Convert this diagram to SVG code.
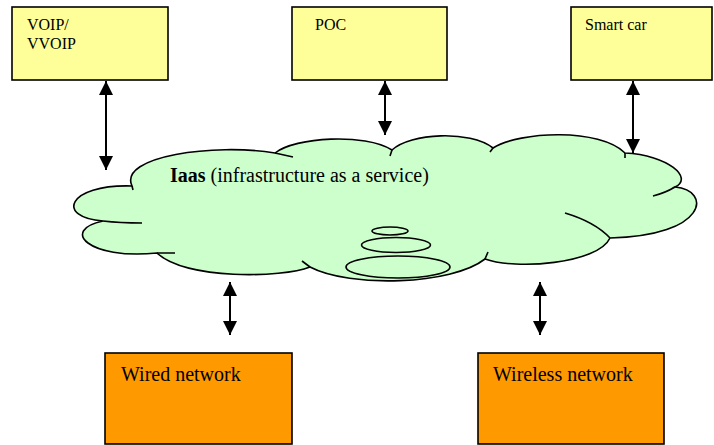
<svg xmlns="http://www.w3.org/2000/svg" width="714" height="445" viewBox="0 0 714 445">
<defs>
<style>
.box{stroke:#000;stroke-width:1.6}
.top{fill:#FFFF99}
.bot{fill:#FF9900}
text{font-family:'Liberation Serif','DejaVu Serif',serif;fill:#000}
.ts{font-size:16px}
.tb{font-size:20px}
.cloud{fill:#CCFFCC;stroke:#000;stroke-width:1.6}
.crease{fill:none;stroke:#000;stroke-width:1.6}
.conn line{stroke:#000;stroke-width:2;marker-start:url(#ah);marker-end:url(#ah)}
</style>
<marker id="ah" markerUnits="userSpaceOnUse" markerWidth="14" markerHeight="14" refX="14" refY="7" orient="auto-start-reverse">
<path d="M0,0 L14,7 L0,14 z" fill="#000"/>
</marker>
</defs>
<rect width="714" height="445" fill="#fff"/>
<g id="cloud">
<path class="cloud" d="M132,186 C118,156 215,143 275,153 C295,137 365,133 392,150 C410,133 470,130 493,148 C520,131 600,128 625,153 C668,155 694,178 675,187 C712,190 708,236 610,238 C598,264 515,270 485,259 C452,285 350,288 310,267 C282,278 185,280 157,253 C88,260 60,230 103,221 C56,218 66,184 132,186 Z"/>
<path class="crease" d="M103,221 Q120,223 142,223 M157,253 L175,253 M310,267 L302,261 M485,259 L488,252 M610,238 Q595,222 565,213 M675,187 Q665,193 653,196 M625,153 L625,158 M493,148 L490,152 M392,150 L390,156 M275,153 L293,157 M132,186 L133,190"/>
<ellipse class="crease" style="fill:#CCFFCC" cx="398" cy="267" rx="52" ry="11"/>
<ellipse class="crease" style="fill:#CCFFCC" cx="396" cy="245" rx="34.5" ry="7.5"/>
<ellipse class="crease" style="fill:#CCFFCC" cx="390" cy="231" rx="18" ry="4"/>
<text class="tb" x="170" y="182" font-family="Liberation Serif, serif"><tspan font-weight="bold">Iaas</tspan> (infrastructure as a service)</text>
</g>
<g id="voip">
<rect class="box top" x="12" y="7" width="156" height="73"/>
<text class="ts" x="27" y="30" font-family="Liberation Serif, serif">VOIP/</text>
<text class="ts" x="27" y="49" font-family="Liberation Serif, serif">VVOIP</text>
</g>
<g id="poc">
<rect class="box top" x="292" y="7" width="155" height="73"/>
<text class="ts" x="315" y="30" font-family="Liberation Serif, serif">POC</text>
</g>
<g id="smartcar">
<rect class="box top" x="571" y="7" width="141" height="73"/>
<text class="ts" x="585" y="30" font-family="Liberation Serif, serif">Smart car</text>
</g>
<g id="wired">
<rect class="box bot" x="105" y="353" width="187" height="91"/>
<text class="tb" x="121" y="381" font-family="Liberation Serif, serif">Wired network</text>
</g>
<g id="wireless">
<rect class="box bot" x="478" y="353" width="186" height="91"/>
<text class="tb" x="493" y="381" font-family="Liberation Serif, serif">Wireless network</text>
</g>
<g id="connectors" class="conn">
<line x1="106" y1="81" x2="106" y2="170"/>
<line x1="385" y1="81" x2="385" y2="135"/>
<line x1="633" y1="81" x2="633" y2="153"/>
<line x1="230" y1="282" x2="230" y2="335"/>
<line x1="540" y1="282" x2="540" y2="335"/>
</g>
</svg>
